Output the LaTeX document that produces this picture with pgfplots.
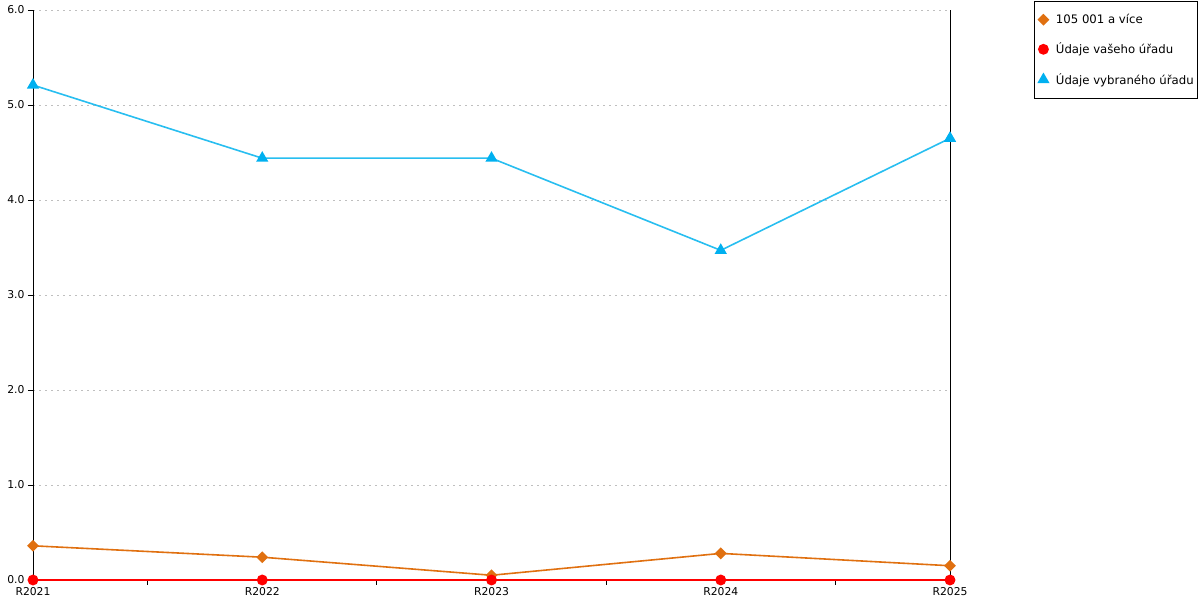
\documentclass[border=0pt]{standalone}
\usepackage{pgfplots}
\pgfplotsset{compat=1.18}
\usepackage{fontspec}
\setmainfont{DejaVu Sans}
\definecolor{cor}{RGB}{224,112,16}
\definecolor{cred}{RGB}{255,0,0}
\definecolor{cblue}{RGB}{0,176,240}
\definecolor{cline}{RGB}{40,190,240}
\begin{document}
\begin{tikzpicture}
\path[use as bounding box] (0,0) rectangle (1200bp,600bp);
\begin{axis}[
  at={(33bp,20bp)}, anchor=south west,
  scale only axis, width=917bp, height=570bp,
  xmin=0, xmax=4, ymin=0, ymax=6,
  clip=false,
  axis x line*=bottom, axis y line*=left,
  axis line style={black, line width=0.8bp},
  xtick={0.5,1.5,2.5,3.5}, xticklabels={},
  extra x ticks={0,1,2,3,4},
  extra x tick labels={R2021,R2022,R2023,R2024,R2025},
  extra x tick style={major tick length=0pt},
  ytick={0,1,2,3,4,5,6},
  yticklabel style={/pgf/number format/fixed,/pgf/number format/precision=1,/pgf/number format/fixed zerofill},
  tick align=outside,
  major tick length=5bp,
  tick style={black, line width=0.8bp},
  ymajorgrids,
  grid style={gray!50, dash pattern=on 2bp off 4bp, line width=0.8bp},
  tick label style={font=\fontsize{10.8bp}{12bp}\selectfont},
  /pgf/number format/assume math mode=true,
  xticklabel style={yshift=-4bp},
  legend style={at={(1.0916,1.0158)}, anchor=north west, draw=black, line width=0.6bp,
    font=\fontsize{11.7bp}{13bp}\selectfont, inner xsep=2bp, inner ysep=11bp, row sep=14bp},
  legend cell align=left,
  legend image code/.code={\draw[#1] plot[only marks] coordinates {(0.22cm,0cm)}; \path (0cm,0cm) (0.56cm,0cm);},
]
\addplot[cor, line width=1.6bp, mark=square*, mark size=3.4bp, mark options={solid,rotate=45,fill=cor,draw=cor}]
 coordinates {(0,0.36) (1,0.24) (2,0.05) (3,0.28) (4,0.15)};
\addlegendentry{105 001 a více}
\addplot[cred, line width=1.8bp, mark=*, mark size=4.5bp, mark options={solid,fill=cred,draw=cred}]
 coordinates {(0,0) (1,0) (2,0) (3,0) (4,0)};
\addlegendentry{Údaje vašeho úřadu}
\addplot[cline, line width=1.6bp, mark=triangle*, mark size=5.5bp, mark options={solid,fill=cblue,draw=cblue}]
 coordinates {(0,5.21) (1,4.44) (2,4.44) (3,3.47) (4,4.65)};
\addlegendentry{Údaje vybraného úřadu}
\draw[black, line width=0.8bp] (rel axis cs:1,0) -- (rel axis cs:1,1);
\end{axis}
\end{tikzpicture}
\end{document}
